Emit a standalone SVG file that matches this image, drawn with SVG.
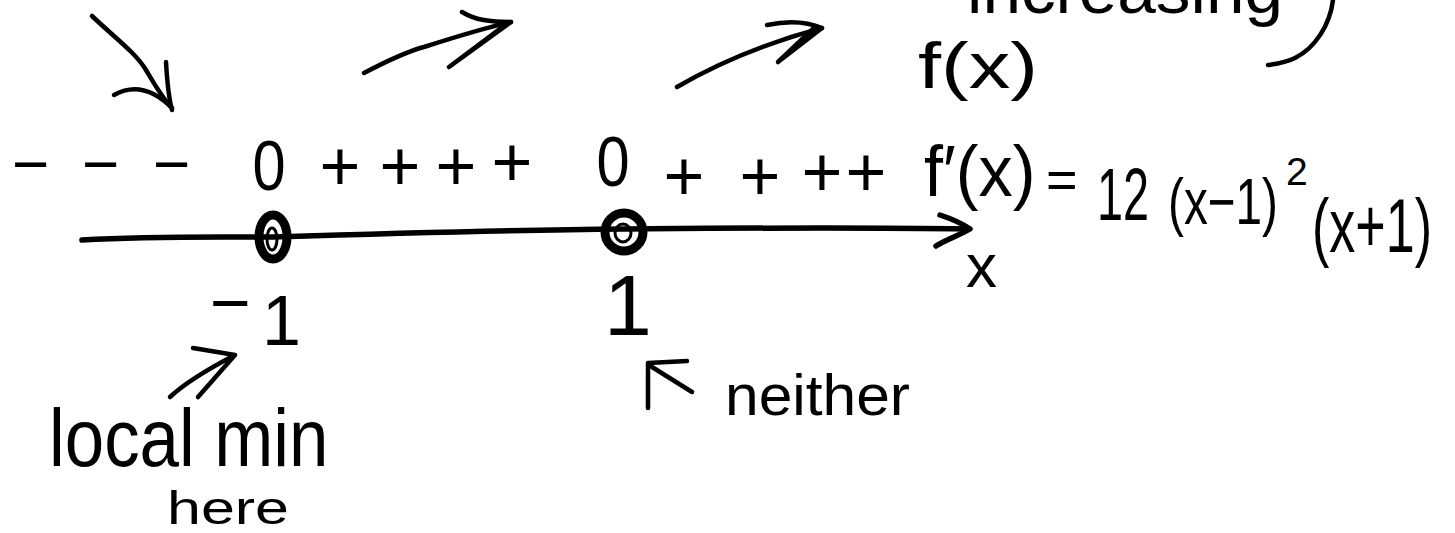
<svg xmlns="http://www.w3.org/2000/svg" width="1455" height="533" viewBox="0 0 1455 533">
<style>
.t{font-family:"Liberation Sans",Arial,sans-serif;fill:#000}
.s{fill:none;stroke:#000;stroke-width:4.5;stroke-linecap:round;stroke-linejoin:round}
.b{fill:none;stroke:#000;stroke-width:5.5;stroke-linecap:round;stroke-linejoin:round}
.pt{fill:none;stroke:#000}
</style>
<rect width="1455" height="533" fill="#fff"/>
<g id="connectors">
  <path class="s" d="M92,16 C115,38 135,52 146,70 C155,85 162,98 172,108"/>
  <path class="s" d="M166,62 C167,80 168,95 172,110 M114,95 C130,86 150,86 172,108"/>
  <path class="s" d="M364,73 C385,62 405,52 424,47 C455,37 485,28 511,22"/>
  <path class="s" d="M462,12 C475,20 490,22 511,22 L449,67 L505,25"/>
  <path class="s" d="M677,87 C720,62 770,42 822,28"/>
  <path class="s" d="M767,25 C790,20 808,22 822,28 L778,62 L815,27"/>
  <path class="b" d="M82,240 C150,236 200,237 273,237 C400,233 500,230 624,229 C750,228 850,227 968,229"/>
  <path class="b" d="M940,215 C955,220 963,224 970,229 C960,235 945,240 936,246"/>
  <path class="s" d="M193,348 L235,355 L198,397 M235,355 C210,368 185,383 170,397"/>
  <path class="s" d="M648,408 L648,363 L687,361 M652,367 L692,392"/>
  <path class="s" d="M1333,0 C1330,25 1315,48 1295,58 C1285,63 1275,64 1268,65"/>
</g>
<g id="point-neg1">
  <ellipse class="pt" cx="273" cy="237" rx="14" ry="22" stroke-width="9"/>
  <ellipse class="pt" cx="272" cy="239" rx="5" ry="11" stroke-width="3"/>
</g>
<g id="point-1">
  <ellipse class="pt" cx="624" cy="232" rx="19" ry="19" stroke-width="9"/>
  <ellipse class="pt" cx="623" cy="233" rx="8" ry="9" stroke-width="3"/>
</g>
<g id="sign-row">
  <text class="t" font-size="64" y="186"><tspan x="12">−</tspan><tspan x="82">−</tspan><tspan x="153">−</tspan></text>
  <text class="t" font-size="70" text-anchor="middle" transform="translate(269,190) scale(0.85,1)">0</text>
  <text class="t" font-size="70" text-anchor="middle" y="190"><tspan x="340">+</tspan><tspan x="400">+</tspan><tspan x="456">+</tspan><tspan x="512" y="186">+</tspan></text>
  <text class="t" font-size="70" text-anchor="middle" transform="translate(613,186) scale(0.85,1)">0</text>
  <text class="t" font-size="70" text-anchor="middle" y="200"><tspan x="684">+</tspan><tspan x="760">+</tspan><tspan x="822" y="196">+</tspan><tspan x="866" y="196">+</tspan></text>
</g>
<g id="equation">
  <text class="t" font-size="72" transform="translate(924,196) scale(0.95,1)">f′(x)</text>
  <text class="t" font-size="54" x="1046" y="198">=</text>
  <text class="t" font-size="74" transform="translate(1097,220) scale(0.632,1)">12</text>
  <text class="t" font-size="65" transform="translate(1168,224) scale(0.734,1)">(x−1)</text>
  <text class="t" font-size="39" x="1286" y="185">2</text>
  <text class="t" font-size="76" transform="translate(1312,252) scale(0.685,1)">(x+1)</text>
</g>
<g id="f-label">
  <text class="t" font-size="64" x="918" y="88" textLength="120" lengthAdjust="spacingAndGlyphs">f(x)</text>
</g>
<g id="note-top">
  <text class="t" font-size="67" x="967" y="13" textLength="316" lengthAdjust="spacingAndGlyphs">increasing</text>
</g>
<g id="x-label">
  <text class="t" font-size="62" x="966" y="287">x</text>
</g>
<g id="tick-neg1">
  <text class="t" font-size="70"><tspan x="210" y="327">−</tspan><tspan x="262" y="345">1</tspan></text>
</g>
<g id="tick-1">
  <text class="t" font-size="86" x="604" y="335" font-family="Liberation Serif">1</text>
</g>
<g id="label-local-min">
  <text class="t" font-size="82" transform="translate(49,466) scale(0.864,1)">local min</text>
  <text class="t" font-size="46" x="167" y="524" textLength="122" lengthAdjust="spacingAndGlyphs">here</text>
</g>
<g id="label-neither">
  <text class="t" font-size="58" x="725" y="415" textLength="185" lengthAdjust="spacingAndGlyphs">neither</text>
</g>
</svg>
